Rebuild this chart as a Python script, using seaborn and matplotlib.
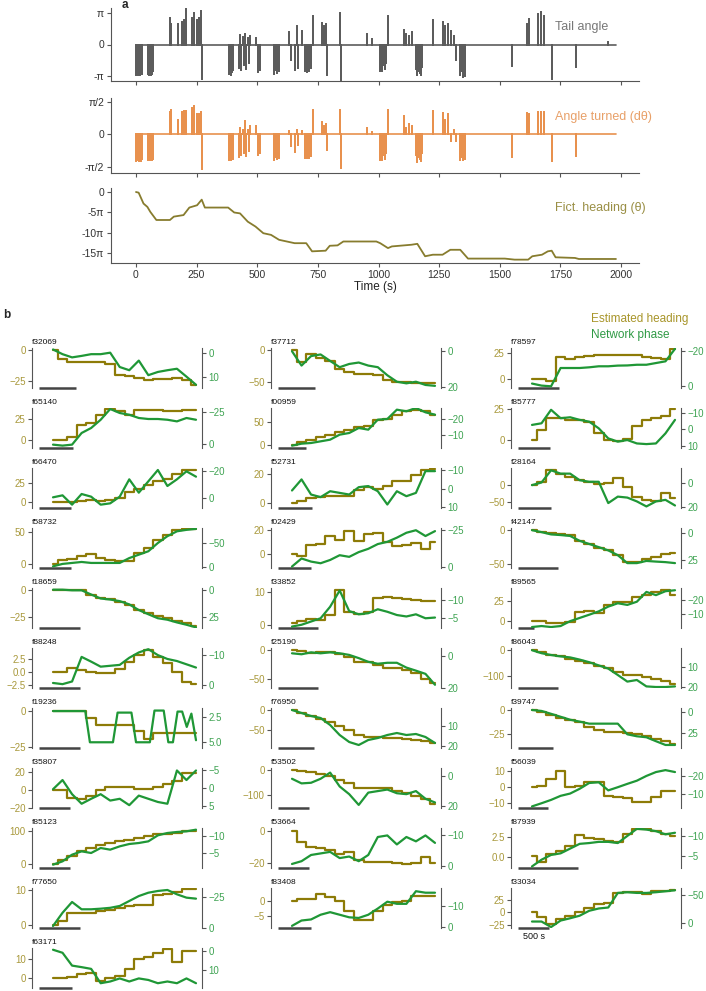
import numpy as np
import pandas as pd
import seaborn as sns
import matplotlib.pyplot as plt

sns.set_theme(style="ticks")
plt.rcParams['font.family'] = ['Liberation Sans', 'DejaVu Sans']
plt.rcParams['axes.unicode_minus'] = True

# ---------------- panel a data ----------------
trace_end = 1980
bout_t = [2, 6, 10, 14, 18, 22, 26, 48, 52, 56, 60, 64, 68, 72,
          140, 146, 172, 188, 196, 207, 233, 241, 252, 260, 268, 271,
          382, 386, 390, 394, 398, 402,
          425, 430, 435, 440, 445, 450, 455, 460, 465, 470, 493, 503, 512,
          570, 575, 580, 585, 590, 630, 638, 654, 662, 670, 686,
          696, 700, 704, 708, 712, 716, 720, 728, 768, 776, 784, 787,
          842, 847, 951, 975,
          1005, 1010, 1015, 1020, 1025, 1030, 1039, 1105, 1115, 1125, 1140,
          1155, 1160, 1165, 1170, 1175, 1180, 1224, 1266, 1275, 1285, 1300, 1310, 1318,
          1338, 1343, 1348, 1353, 1358, 1549, 1613, 1622, 1658, 1671, 1683,
          1714, 1814, 1947]
tail_amp = [-3.0, -2.8, -3.0, -2.9, -3.0, -2.8, -2.9, -2.9, -3.0, -2.8, -3.0, -2.9, -2.8, -2.6,
            2.63, 2.0, 2.06, 2.2, 2.4, 3.55, 2.63, 3.14, 2.47, 2.63, 3.38, -3.4,
            -2.9, -2.6, -3.0, -2.7, -2.5, -2.2,
            -2.3, 0.9, -2.5, 0.7, -2.0, 1.0, -2.4, 0.6, -1.8, 0.8, 0.6, -2.7, -2.5,
            -2.9, -2.5, -2.8, -2.2, -2.6, 1.2, -1.5, -2.5, 1.8, -2.3, 1.3,
            -2.6, -2.2, -2.7, -2.4, -2.6, -2.0, -2.3, 2.8, 2.1, 1.8, 2.0, -3.0,
            3.14, -3.55, 1.0, 0.5,
            -2.6, -2.3, -2.6, -2.0, -2.4, -1.8, 2.8, 1.4, 1.0, 0.8, 1.2,
            -2.4, -3.0, -2.6, -2.8, -3.0, -2.2, 2.47, 2.2, 1.8, 2.0, 1.3, 0.8, -1.5,
            -3.0, -2.6, -3.2, -2.8, -3.1, -2.1, 2.0, 2.5, 3.0, 3.24, 2.8,
            -3.4, -2.2, 0.25]
turn_amp = [-1.29, -1.2, -1.25, -1.29, -1.22, -1.27, -1.2, -1.24, -1.22, -1.24, -1.2, -1.24, -1.22, -1.18,
            1.1, 1.17, 0.71, 1.1, 1.12, 1.12, 1.3, 1.36, 1.0, 1.0, 1.1, -1.69,
            -1.24, -1.1, -1.24, -1.15, -1.2, -1.0,
            -1.07, 0.3, -1.0, 0.2, -0.9, 0.66, -1.05, 0.2, -0.8, 0.4, 0.41, -1.0, -0.9,
            -1.24, -1.1, -1.2, -1.0, -1.15, 0.17, -0.58, -0.83, 0.2, -0.5, 0.15,
            -1.16, -1.0, -1.16, -1.1, -1.16, -0.95, -1.05, 1.16, 0.58, 0.4, 0.5, -0.74,
            1.2, -1.62, 0.33, 0.1,
            -1.24, -1.1, -1.24, -1.0, -1.2, -0.9, 1.2, 0.9, 0.33, 0.5, 0.4,
            -1.0, -1.32, -1.1, -1.2, -1.3, -0.9, 1.12, 1.04, 0.7, 1.0, -0.33, 0.2, -0.3,
            -1.21, -1.1, -1.21, -1.15, -1.2, -1.07, 1.04, 1.0, 1.07, 1.07, 1.07,
            -1.27, -1.04, 0.0]
head_t = [0, 11, 31, 47, 59, 84, 140, 156, 196, 220, 252, 271, 284, 380, 405, 429, 461, 493,
          525, 557, 590, 654, 702, 726, 782, 799, 831, 855, 991, 1007, 1039, 1055, 1136,
          1160, 1192, 1224, 1264, 1296, 1337, 1369, 1521, 1561, 1617, 1634, 1674, 1698,
          1714, 1730, 1810, 1826, 1979]
head_val = [0, -0.5, -8.9, -11.5, -15.3, -21.6, -21.6, -19, -17.8, -12, -10.2, -5.9, -12, -12,
            -15.8, -16.5, -22.9, -26.7, -31.8, -33.1, -36.9, -39.5, -39.5, -45.8, -45.3,
            -41.5, -41.2, -38.2, -38.2, -39.5, -43.3, -42, -40.7, -40, -49.6, -48.4, -48.4,
            -44.6, -44.6, -51.4, -51.4, -52.2, -52.2, -49.6, -48.4, -45.8, -45.3, -50.4,
            -50.9, -51.7, -51.7]

# ---------------- panel b data ----------------
col1 = ["f32069", "f65140", "f66470", "f58732", "f18659", "f88248",
        "f19236", "f35807", "f85123", "f77650", "f63171"]
col2 = ["f37712", "f00959", "f52731", "f02429", "f33852", "f25190",
        "f76950", "f53502", "f53664", "f83408"]
col3 = ["f78597", "f85777", "f28164", "f42147", "f89565", "f86043",
        "f39747", "f56039", "f87939", "f33034"]

# recording duration (s)
duration = {"f32069": 1930, "f65140": 2100, "f66470": 2230, "f58732": 2230, "f18659": 1740,
            "f88248": 1740, "f19236": 1740, "f35807": 2300, "f85123": 2300, "f77650": 1740,
            "f63171": 2170, "f37712": 1930, "f00959": 2550, "f52731": 2100, "f02429": 2170,
            "f33852": 1790, "f25190": 1790, "f76950": 1990, "f53502": 2300, "f53664": 2300,
            "f83408": 2170, "f78597": 1740, "f85777": 2230, "f28164": 2170, "f42147": 1790,
            "f89565": 4500, "f86043": 1790, "f39747": 2040, "f56039": 2380, "f87939": 1190,
            "f33034": 2300}

heading = {
    "f32069": [0, -7.3, -9.9, -9.9, -9.9, -9.9, -11.2, -20.3, -21.1, -22.9, -24.2, -23.7, -23.2, -22.9, -24.2, -28],
    "f65140": [0, 0, 3.2, 17.9, 19.8, 29.8, 36.5, 33.7, 29.8, 35.7, 35.7, 34.9, 33.7, 33.7, 34.9, 34.9],
    "f66470": [0, 0, 0, 2, 3, 2, 3, 6, 13, 17, 22, 27, 30, 37, 42, 42],
    "f58732": [0, 7, 8, 12, 15, 9, 7, 5, 5, 17, 25, 38, 46, 53, 56, 56],
    "f18659": [0, 0, -0.6, -0.6, -5, -7.4, -8.6, -11, -14, -18.5, -21, -23.5, -26, -28, -30, -32.7],
    "f88248": [0, 0, 0.75, 0.3, 0, -0.3, -0.3, 0.6, 1.9, 3.1, 4.2, 2.8, 1.6, 0, -1.9, -2.4],
    "f19236": [0, 0, 0, 0, -5, -10, -10, -10, -10, -14, -19, -15, -15, -15, -15, -15],
    "f35807": [0, 0, -9.4, -11, -7.7, -0.7, 2.8, 2.8, 2.8, 1, 0.3, 2.8, 6.3, 9.7, 18.4, 18.4],
    "f85123": [0, 12, 23, 38, 48, 59, 64, 69, 74, 79, 85, 90, 92, 95, 100, 102],
    "f77650": [0, 1.1, 3.4, 3.4, 3.4, 3.9, 4.4, 4.9, 5.3, 5.8, 5.8, 8.6, 8.9, 9.5, 10.2, 10.2],
    "f63171": [0, 0, 0.8, 2.5, 3, -1.5, 0, 1, 5, 10, 11, 13, 15.3, 8.3, 14, 14.2],
    "f37712": [0, -19.4, -6.6, -11.7, -16.8, -29.6, -34.7, -37.2, -37.2, -39.8, -47.4, -50, -50, -52.6, -51.5, -52.6],
    "f00959": [0, 5.2, 11.2, 17.2, 22.4, 27.6, 32, 39.6, 42.5, 54.5, 57.5, 67, 74.6, 78.4, 74.6, 67],
    "f52731": [0, 1.1, 3.4, 3.9, 4.5, 4.5, 4.5, 9.1, 10.7, 9.8, 11.4, 14.8, 14.8, 19.3, 22.7, 23.2],
    "f02429": [0, -2, 7, 8.2, 15, 12, 19.2, 11, 16.4, 17.3, 10, 6.8, 7.4, 9, 4.1, 10],
    "f33852": [0.5, 1, 1.8, 1.5, 3, 10.5, 4, 3.2, 3.8, 8, 8.5, 8.2, 7.8, 7.5, 7.2, 7.3],
    "f25190": [0, -2.8, -5, -3.9, -3.9, -6.7, -12.4, -20.8, -21.9, -26.4, -30.9, -32, -34.8, -40.4, -50, -57.3],
    "f76950": [0, -8, -15, -22, -30, -40, -50, -62, -67, -68, -70, -70, -72, -75, -78, -82],
    "f53502": [0, -2.5, -6, -12.5, -21, -37.5, -50, -71, -71, -71, -71, -84, -92.5, -105, -115, -134],
    "f53664": [0, -7, -9.6, -10.4, -11.6, -14, -13, -18, -19, -19, -19, -19.6, -20.4, -20, -16, -19.6],
    "f83408": [0, 0.7, 0.7, 2.3, 1.25, 0.2, -3.4, -6.4, -6.4, -3.2, -1.4, -0.3, 0.2, 1.8, 1.8, 1.8],
    "f78597": [0, 0, -2.3, 20.7, 19, 20.7, 21.7, 22.4, 23, 23, 22.4, 22.4, 20.7, 19.7, 19, 29],
    "f85777": [0, 8.2, 17.7, 17.7, 16.3, 16.3, 14.1, 5.4, 0, -1.4, 0.5, 10.9, 16.3, 17.7, 19, 25],
    "f28164": [0, 9.4, 42.5, 33, 23.6, 14, 9.4, 1.9, 4.7, 18.9, -4.7, -33, -42.5, -47.2, -23.6, -37.7],
    "f42147": [0, -2.8, -4.7, -6.1, -7.5, -15.6, -20.3, -26.4, -29.7, -36.8, -47.2, -47.2, -42.5, -39.2, -34.4, -33],
    "f89565": [0.8, 0, -2, -2, -1, 12, 12.7, 9.9, 19.8, 23.8, 23.8, 29.8, 31.7, 35.7, 37.7, 31.7],
    "f86043": [2.6, -6.5, -16.9, -23.4, -35, -42.9, -52, -61, -71.4, -84.4, -97.4, -97.4, -104, -113, -123, -134],
    "f39747": [0, -2, -5, -8, -10.3, -12.4, -17.5, -20.6, -22.7, -23.7, -24.7, -25.8, -27.8, -30.9, -33, -36],
    "f56039": [0, 0.8, 5.1, 9.6, -0.2, 0.8, 3.1, 3.1, -5.5, -6.1, -6.7, -9, -9, -6.1, -2.7, -2.7],
    "f87939": [0.1, -0.6, 0.4, 0.8, 1.4, 2.7, 2.4, 2.2, 2, 1.9, 2.8, 3.5, 3.4, 3.2, 2.8, 2.6],
    "f33034": [1.3, -10, -23.3, -13.3, -6.7, 0, 8, 16.7, 18.7, 40, 41.3, 41.3, 36.7, 43.3, 43.3, 46.7],
}

phase = {
    "f32069": [-1.3, 0.6, 1.9, 1.3, 0.6, 0.6, 0, 5.8, 7.1, 3.2, 9.1, 7.8, 7.1, 6.5, 9.7, 13],
    "f65140": [0.8, 1.6, 0.8, -8.5, -12.5, -19.1, -27.7, -24.5, -23.1, -20.5, -19.7, -19.7, -19.1, -17.8, -20.5, -19.1],
    "f66470": [-0.5, -2, 5, -3, -1, 5, 4, -1, -14, -4, -12.5, -21, -9, -14, -20, -16],
    "f58732": [-2, -7, -9, -11, -9, -9, -9, -9, -19, -26, -33, -50, -64, -74, -77, -79],
    "f18659": [-0.6, -0.6, 0, 0, 4, 7.8, 8.8, 10.3, 13.4, 18.8, 22.8, 26.6, 28, 30.6, 32.8, 35.3],
    "f88248": [-0.6, -0.2, -1.1, -9.4, -7.8, -6.1, -6.4, -6.7, -9.1, -10.9, -12, -10, -8.7, -8, -6.9, -5.8],
    "f19236": [1.95, 1.95, 1.95, 1.95, 1.95, 1.95, 1.95, 1.95, 5.0, 5.0, 5.0, 5.0, 5.0, 5.0,
               2.1, 2.1, 2.1, 2.1, 5.0, 5.0, 5.0, 5.0, 1.9, 1.9, 1.9, 5.0, 5.0, 2.0, 2.0,
               3.5, 2.2, 4.8],
    "f35807": [0.4, -2.2, 1.8, 4.5, 3.1, 1.8, 3.6, 3.1, 4.9, 2.2, 3.1, 4, 4.5, -4.9, -2.2, -4.9],
    "f85123": [-1.5, -2.5, -4.5, -5.5, -5, -6.5, -6, -7, -7.7, -8, -8.5, -10.3, -11, -11.3, -11.5, -12],
    "f77650": [-1.3, -12, -20.7, -14.8, -14.8, -15.3, -16, -17.5, -21.5, -25.5, -28.2, -29.6, -30.4, -26.9, -24.2, -23.4],
    "f63171": [-0.8, 0.8, 7.5, 8.3, 9.2, 16.7, 15.8, 14.2, 15.8, 14.2, 15, 16.7, 15.8, 16.7, 14.2, 16.7],
    "f37712": [0, 8, 2.7, 1.8, 5.4, 8.9, 7.1, 6.3, 8, 8.9, 13.4, 17, 17.9, 17, 18.8, 19.3],
    "f00959": [-3.8, -5, -5.4, -6.4, -7.4, -10.4, -11.4, -14.4, -13.4, -19.4, -19.8, -25.4, -24.4, -26.4, -23.8, -22.4],
    "f52731": [0.9, -5.1, 3.1, 4.5, 1.3, 2.2, 3.1, -0.9, -1.5, 1.3, 8.5, 1.3, 4, 2.2, -9.6, -9.6],
    "f02429": [-0.6, -6, -3.9, -2.8, -5, -8.2, -7.1, -10.3, -12.5, -15.7, -17.2, -20, -23.3, -25, -21.1, -24.4],
    "f33852": [-2.7, -3.2, -4.1, -5, -8.2, -12.7, -7, -6.1, -6.4, -7.5, -6.8, -5.9, -5.5, -6.1, -5, -5.2],
    "f25190": [-1.6, -1, -2.2, -1.6, -2.2, -1.6, -0.6, 1.4, 3.7, 4.9, 4.3, 4.3, 7.3, 9.2, 11.2, 18],
    "f76950": [2, 3.5, 5, 6, 9.5, 14.5, 18, 19.5, 17, 16, 14.5, 13.5, 14.5, 14, 15.5, 18.5],
    "f53502": [2, 5, 4.6, 2, -2, 7, 12, 19, 11, 10, 9, 11.4, 12, 10, 15, 17.4],
    "f53664": [-0.8, -1.7, -3.7, -4.2, -4.7, -2.7, -3.2, -1.7, -3.7, -9.5, -10, -7.1, -9.5, -8.1, -10, -7.6],
    "f83408": [-0.7, -3.2, -3.7, -5.9, -7.1, -5.9, -4.7, -4.4, -5.9, -8.8, -12, -11, -11, -16.9, -16.2, -16.2],
    "f78597": [-1.2, 0, 0.4, -10.3, -10.3, -10.3, -10.7, -11.3, -11.3, -11.7, -11.8, -12.2, -12.2, -13.2, -14.2, -21.5],
    "f85777": [-2.7, -3.7, -12, -6.8, -7.4, -5.8, -4.7, -0.6, 5.6, 7.6, 6.6, 8.7, 9.1, 8.7, 2.5, -5.8],
    "f28164": [1.4, -0.8, -11, -8.2, -8.2, -2.7, -1.4, -1.4, 16.4, 11, 11.8, 15, 19.2, 15, 13.7, 18.4],
    "f42147": [-2.4, -0.6, 1.5, 2.1, 2.9, 7.4, 10.3, 13.2, 16.2, 20.6, 27.9, 27.9, 25.9, 26.5, 27, 27.9],
    "f89565": [-0.7, -1.4, -0.7, -1.4, -4.9, -7.2, -9.5, -11.9, -15.3, -17.7, -16.5, -18.8, -25.8, -23.5, -26.3, -27],
    "f86043": [1.6, 3.1, 4, 4.7, 5.2, 6.3, 7.6, 9.2, 10.8, 14, 17.3, 16.5, 19.7, 20, 20, 19.7],
    "f39747": [-2.7, -1.5, 2, 5.6, 9.2, 11.5, 14, 14, 14, 14, 27, 29.4, 30.6, 35.4, 40, 40],
    "f56039": [-2.7, -4.5, -6.4, -8.7, -10, -12.7, -16, -16.4, -11.8, -13.6, -15.5, -17.3, -20, -22.2, -23.3, -22.2],
    "f87939": [-2.3, -4, -5.2, -5.6, -6.8, -8, -8.2, -8.5, -8.5, -8.2, -10, -11.8, -11.6, -11.2, -10.4, -10.8],
    "f33034": [-2.8, -2.8, 6.8, -4.5, -8.5, -13, -21.6, -25.6, -27.3, -52.8, -54, -52.8, -52.8, -54, -55.7, -57.4],
}

# axis ranges (left: heading, right: phase, shown inverted) and ticks
left_lim = {"f32069": (-30.7, 1.8), "f65140": (-9.9, 37.7), "f66470": (-7.3, 44.4),
            "f58732": (-6.3, 56.8), "f18659": (-34.8, 1.5), "f88248": (-3.1, 4.5),
            "f19236": (-25.5, 2), "f35807": (-20.5, 24), "f85123": (-13.4, 110),
            "f77650": (-0.75, 10.5), "f63171": (-5, 15.8), "f37712": (-60.2, 3.6),
            "f00959": (-7.5, 82), "f52731": (-3.4, 23.9), "f02429": (-12.3, 21.9),
            "f33852": (-1, 11.2), "f25190": (-65.7, 2.8), "f76950": (-95, 5),
            "f53502": (-152, 10), "f53664": (-23, 2), "f83408": (-8.9, 4.4),
            "f78597": (-8.9, 29.5), "f85777": (-6.8, 25.8), "f28164": (-66, 49),
            "f42147": (-55.7, 3.3), "f89565": (-7.9, 40.5), "f86043": (-149, 9),
            "f39747": (-40, 2), "f56039": (-12.9, 11.6), "f87939": (-1.31, 3.57),
            "f33034": (-32, 50)}
right_lim = {"f32069": (14.3, -1.9), "f65140": (3.5, -28.5), "f66470": (7.5, -22.5),
             "f58732": (1.4, -80.8), "f18659": (35.9, -2.2), "f88248": (1.1, -12.4),
             "f19236": (5.56, 1.65), "f35807": (5.7, -5.6), "f85123": (-0.5, -12.5),
             "f77650": (0.3, -32), "f63171": (19.2, -1.7), "f37712": (20.5, -1.8),
             "f00959": (-2.4, -26.4), "f52731": (10.4, -11.3), "f02429": (0.4, -26.5),
             "f33852": (-2.3, -13.4), "f25190": (19, -4.9), "f76950": (21, 1),
             "f53502": (21, -5), "f53664": (0.5, -12.4), "f83408": (0.3, -18.4),
             "f78597": (1.4, -22), "f85777": (11.5, -13.1), "f28164": (20.5, -12.9),
             "f42147": (32.4, -4.4), "f89565": (0, -28.6), "f86043": (20.5, 0.5),
             "f39747": (43.7, -5.1), "f56039": (-1.8, -24.5), "f87939": (-1.9, -12),
             "f33034": (8.5, -61.4)}
left_ticks = {"f32069": [-25, 0], "f65140": [0, 25], "f66470": [0, 25], "f58732": [0, 50],
              "f18659": [-25, 0], "f88248": [-2.5, 0.0, 2.5], "f19236": [-25, 0],
              "f35807": [-20, 0, 20], "f85123": [0, 100], "f77650": [0, 10], "f63171": [0, 10],
              "f37712": [-50, 0], "f00959": [0, 50], "f52731": [0, 20], "f02429": [0, 20],
              "f33852": [0, 10], "f25190": [-50, 0], "f76950": [-50, 0], "f53502": [-100, 0],
              "f53664": [-20, 0], "f83408": [-5, 0], "f78597": [0, 25], "f85777": [0, 25],
              "f28164": [-50, 0], "f42147": [-50, 0], "f89565": [0, 25], "f86043": [-100, 0],
              "f39747": [-25, 0], "f56039": [-10, 0, 10], "f87939": [0.0, 2.5],
              "f33034": [-25, 0, 25]}
right_ticks = {"f32069": [0, 10], "f65140": [-25, 0], "f66470": [-20, 0], "f58732": [-50, 0],
               "f18659": [0, 25], "f88248": [-10, 0], "f19236": [2.5, 5.0],
               "f35807": [-5, 0, 5], "f85123": [-10, -5], "f77650": [-25, 0], "f63171": [0, 10],
               "f37712": [0, 20], "f00959": [-20, -10], "f52731": [-10, 0, 10], "f02429": [-25, 0],
               "f33852": [-10, -5], "f25190": [0, 20], "f76950": [10, 20], "f53502": [0, 20],
               "f53664": [-10, 0], "f83408": [-10, 0], "f78597": [-20, 0], "f85777": [-10, 0, 10],
               "f28164": [0, 20], "f42147": [0, 25], "f89565": [-20, -10], "f86043": [10, 20],
               "f39747": [0, 25], "f56039": [-20, -10], "f87939": [-10, -5],
               "f33034": [-50, 0]}

scale_bar_s = 500

# ---------------- styling ----------------
GRAY = "#5c5c5c"
ORANGE = "#e8914e"
OLIVE_A = "#877c2e"
OLIVE = "#8d7b07"
GREEN = "#1f9736"
OLIVE_TXT = "#a8983a"
GREEN_TXT = "#3ea352"
SPINE = "#555555"

W, H = 706, 991
fig = plt.figure(figsize=(W / 100, H / 100), dpi=100)


def add_ax(x0, y0, x1, y1):
    return fig.add_axes([x0 / W, 1 - y1 / H, (x1 - x0) / W, (y1 - y0) / H])


def spike_frame(times, amps):
    t = [0.0]
    v = [0.0]
    for bt, a in zip(times, amps):
        t += [bt, bt, bt]
        v += [0.0, a, 0.0]
    t.append(trace_end)
    v.append(0.0)
    return pd.DataFrame({"t": t, "v": v})


# ---------------- panel a ----------------
ax_tail = add_ax(111, 8, 639, 81)
ax_turn = add_ax(111, 98, 639, 173)
ax_head = add_ax(111, 188, 639, 263)

sns.lineplot(data=spike_frame(bout_t, tail_amp), x="t", y="v", sort=False, estimator=None,
             color=GRAY, lw=1.2, ax=ax_tail, legend=False)
sns.lineplot(data=spike_frame(bout_t, turn_amp), x="t", y="v", sort=False, estimator=None,
             color=ORANGE, lw=1.2, ax=ax_turn, legend=False)
sns.lineplot(x=head_t, y=head_val, sort=False, estimator=None, color=OLIVE_A, lw=1.3,
             ax=ax_head, legend=False)

ax_tail.set_ylim(-3.64, 3.64)
ax_tail.set_yticks([-np.pi, 0, np.pi], ["-π", "0", "π"])
ax_turn.set_ylim(-1.86, 1.76)
ax_turn.set_yticks([-np.pi / 2, 0, np.pi / 2], ["-π/2", "0", "π/2"])
ax_head.set_ylim(-54.8, 3.1)
ax_head.set_yticks([0, -5 * np.pi, -10 * np.pi, -15 * np.pi], ["0", "-5π", "-10π", "-15π"])

for ax in (ax_tail, ax_turn, ax_head):
    ax.set_xlim(-103, 2074)
    ax.set_xticks(range(0, 2001, 250))
    for s in ("top", "right"):
        ax.spines[s].set_visible(False)
    for s in ("left", "bottom"):
        ax.spines[s].set_color(SPINE)
        ax.spines[s].set_linewidth(0.8)
    ax.tick_params(length=3, width=0.8, color=SPINE, labelsize=7.5, labelcolor="#333333", pad=2)
    ax.set_xlabel("")
    ax.set_ylabel("")
ax_tail.tick_params(labelbottom=False)
ax_turn.tick_params(labelbottom=False)
ax_head.set_xlabel("Time (s)", fontsize=8.5, labelpad=1, color="#222222")

fig.text(555 / W, 1 - 27 / H, "Tail angle", color="#777777", fontsize=9, va="center")
fig.text(555 / W, 1 - 117 / H, "Angle turned (dθ)", color="#e8a068", fontsize=9, va="center")
fig.text(555 / W, 1 - 208 / H, "Fict. heading (θ)", color="#9a8f45", fontsize=9, va="center")
fig.text(122 / W, 1 - 5 / H, "a", fontsize=8.5, fontweight="bold", va="center")

# ---------------- panel b ----------------
fig.text(3 / W, 1 - 315 / H, "b", fontsize=8.5, fontweight="bold", va="center")
fig.text(591 / W, 1 - 319 / H, "Estimated heading", color="#a8952a", fontsize=8.5, va="center")
fig.text(591 / W, 1 - 335 / H, "Network phase", color="#2f9a45", fontsize=8.5, va="center")

col_left = [32, 271, 511]
for c, ids in enumerate([col1, col2, col3]):
    for r, fid in enumerate(ids):
        x0 = col_left[c]
        y0 = 348 + 60 * r
        ax = add_ax(x0, y0, x0 + 170, y0 + 40)
        T = duration[fid]
        p = 143.0 / T  # px per second
        t_head = np.linspace(0, T, len(heading[fid]))
        t_phase = np.linspace(0, T, len(phase[fid]))
        sns.lineplot(x=t_head, y=heading[fid], ax=ax, color=OLIVE, lw=1.6, legend=False,
                     drawstyle="steps-mid")
        ax.set_xlim(-21 / p, 149 / p)
        ax.set_ylim(*left_lim[fid])
        ax.set_yticks(left_ticks[fid])
        ax.set_xticks([])

        ax2 = ax.twinx()
        sns.lineplot(x=t_phase, y=phase[fid], ax=ax2, color=GREEN, lw=1.6, legend=False)
        ax2.set_ylim(*right_lim[fid])
        ax2.set_yticks(right_ticks[fid])

        for a in (ax, ax2):
            a.patch.set_visible(False)
            for s in ("top", "bottom"):
                a.spines[s].set_visible(False)
        ax.spines["right"].set_visible(False)
        ax2.spines["left"].set_visible(False)
        ax.spines["left"].set_color(SPINE)
        ax2.spines["right"].set_color(SPINE)
        ax.spines["left"].set_linewidth(0.8)
        ax2.spines["right"].set_linewidth(0.8)
        ax.tick_params(axis="y", length=3, width=0.8, color=SPINE, labelcolor=OLIVE_TXT,
                       labelsize=7, pad=1.5)
        ax2.tick_params(axis="y", length=3, width=0.8, color=SPINE, labelcolor=GREEN_TXT,
                        labelsize=7, pad=1.5)

        # 500 s scale bar
        bar0 = -14 / p
        ax.plot([bar0, bar0 + scale_bar_s], [0.0, 0.0], transform=ax.get_xaxis_transform(),
                color="#444444", lw=1.8, clip_on=False, solid_capstyle="butt")
        ax.text(0.0, 1.15, fid, transform=ax.transAxes, fontsize=6, ha="left", va="center",
                color="#111111")
        if fid == "f33034":
            ax.text(bar0 + scale_bar_s / 2, -0.22, "500 s", transform=ax.get_xaxis_transform(),
                    fontsize=6.5, ha="center", va="center", color="#111111")

fig.savefig("out.png", dpi=100)
